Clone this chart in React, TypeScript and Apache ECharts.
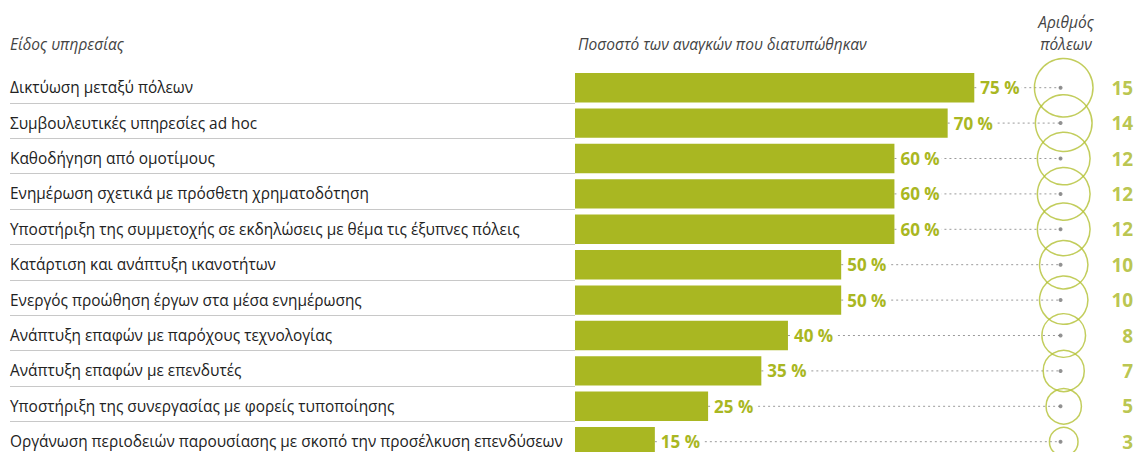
import React, { useEffect, useRef } from "react";
import * as echarts from "echarts";

const categories = [
  "Δικτύωση μεταξύ πόλεων",
  "Συμβουλευτικές υπηρεσίες ad hoc",
  "Καθοδήγηση από ομοτίμους",
  "Ενημέρωση σχετικά με πρόσθετη χρηματοδότηση",
  "Υποστήριξη της συμμετοχής σε εκδηλώσεις με θέμα τις έξυπνες πόλεις",
  "Κατάρτιση και ανάπτυξη ικανοτήτων",
  "Ενεργός προώθηση έργων στα μέσα ενημέρωσης",
  "Ανάπτυξη επαφών με παρόχους τεχνολογίας",
  "Ανάπτυξη επαφών με επενδυτές",
  "Υποστήριξη της συνεργασίας με φορείς τυποποίησης",
  "Οργάνωση περιοδειών παρουσίασης με σκοπό την προσέλκυση επενδύσεων",
];
const percentages = [75, 70, 60, 60, 60, 50, 50, 40, 35, 25, 15];
const cities = [15, 14, 12, 12, 12, 10, 10, 8, 7, 5, 3];

const headerService = "Είδος υπηρεσίας";
const headerPercent = "Ποσοστό των αναγκών που διατυπώθηκαν";
const headerCities1 = "Αριθμός";
const headerCities2 = "πόλεων";

const GREEN = "#a9b722";
const FONT = "'Open Sans', 'Noto Sans', sans-serif";
const DOT_X = 91.2;
const CIRCLE_X = 91.8;
const NUM_X = 104.85;

export default function App() {
  const ref = useRef<HTMLDivElement>(null);
  useEffect(() => {
    if (!ref.current) return;
    const chart = echarts.init(ref.current, undefined, { renderer: "svg" });
    const headStyle = { fontSize: 15.5, fontStyle: "italic", fill: "#444", fontFamily: FONT };
    const option: any = {
      animation: false,
      textStyle: { fontFamily: FONT },
      grid: { left: 575, width: 562, top: 70, height: 389.4, containLabel: false },
      xAxis: { type: "value", min: 0, max: 105, show: false },
      yAxis: {
        type: "category",
        data: categories,
        inverse: true,
        axisLine: { show: false },
        axisTick: { show: false },
        splitLine: { show: false },
        axisLabel: { align: "left", margin: 565, fontSize: 15.4, color: "#222", fontFamily: FONT },
      },
      graphic: [
        { type: "text", x: 10, y: 44, style: { ...headStyle, text: headerService, verticalAlign: "middle" } },
        { type: "text", x: 578, y: 44, style: { ...headStyle, text: headerPercent, verticalAlign: "middle" } },
        { type: "text", x: 1066, y: 22, style: { ...headStyle, text: headerCities1, align: "center", verticalAlign: "middle" } },
        { type: "text", x: 1066, y: 44, style: { ...headStyle, text: headerCities2, align: "center", verticalAlign: "middle" } },
      ],
      series: [
        {
          type: "custom",
          z: 1,
          clip: false,
          data: categories.map((_, i) => [0, i]),
          encode: { x: 0, y: 1 },
          renderItem: (params: any, api: any) => {
            const p = api.coord([0, api.value(1)]);
            const band = api.size([0, 1])[1];
            const y = Math.round(p[1] + band * 0.42) + 0.5;
            return {
              type: "line",
              shape: { x1: 10, y1: y, x2: p[0], y2: y },
              style: { stroke: "#c8c8c8", lineWidth: 1 },
            };
          },
        },
        {
          type: "custom",
          z: 1,
          clip: false,
          data: percentages.map((v, i) => [v, i]),
          encode: { x: 0, y: 1 },
          renderItem: (params: any, api: any) => {
            const a = api.coord([api.value(0), api.value(1)]);
            const b = api.coord([DOT_X, api.value(1)]);
            return {
              type: "line",
              shape: { x1: a[0], y1: a[1], x2: b[0], y2: b[1] },
              style: { stroke: "#9a9a9a", lineWidth: 1, lineDash: [2, 3] },
            };
          },
        },
        {
          type: "bar",
          z: 3,
          data: percentages,
          barCategoryGap: "17%",
          itemStyle: { color: GREEN },
          label: {
            show: true,
            position: "right",
            distance: 4,
            formatter: "{c} %",
            color: GREEN,
            fontSize: 17,
            fontWeight: "bold",
            fontFamily: FONT,
            backgroundColor: "#fff",
            padding: [0, 2],
          },
        },
        {
          type: "scatter",
          z: 4,
          data: cities.map((c, i) => [CIRCLE_X, i, c]),
          symbol: "circle",
          symbolSize: (val: number[]) => 2 * Math.sqrt(40.5 + 54.5 * val[2]),
          itemStyle: { color: "rgba(0,0,0,0)", borderColor: "#b3c033", borderWidth: 1.5 },
        },
        {
          type: "scatter",
          z: 5,
          data: cities.map((c, i) => [DOT_X, i]),
          symbolSize: 4,
          itemStyle: { color: "#777" },
        },
        {
          type: "scatter",
          z: 5,
          data: cities.map((c, i) => [NUM_X, i, c]),
          symbolSize: 0,
          label: {
            show: true,
            position: "left",
            distance: 0,
            formatter: (p: any) => String(p.value[2]),
            color: GREEN,
            fontSize: 19,
            fontWeight: "bold",
            fontFamily: FONT,
          },
        },
      ],
    };
    chart.setOption(option);
    return () => chart.dispose();
  }, []);
  return (
    <div style={{ position: "fixed", left: 0, top: 0, width: 1134, height: 452, overflow: "hidden", background: "#fff" }}>
      <div ref={ref} style={{ width: 1134, height: 470 }} />
    </div>
  );
}
